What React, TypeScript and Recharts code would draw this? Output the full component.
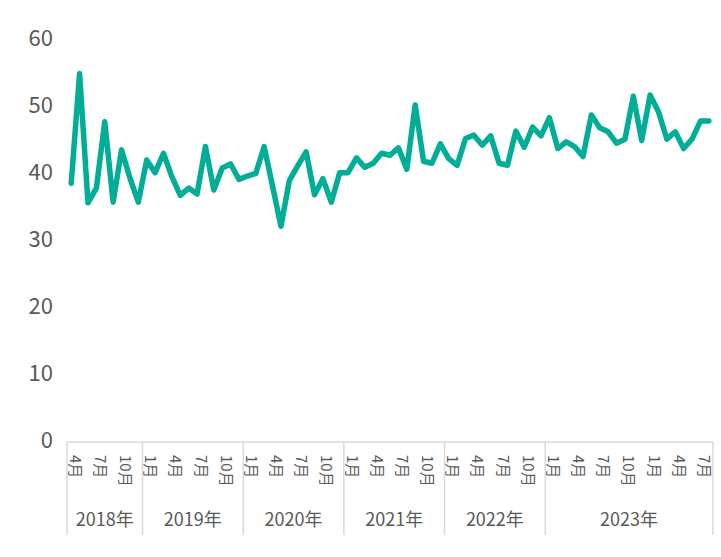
import { LineChart, Line, XAxis, YAxis } from 'recharts';

// months shown on the axis, Apr 2018 – Aug 2024
const categories = [
  '2018/4', '2018/5', '2018/6', '2018/7', '2018/8', '2018/9', '2018/10', '2018/11', '2018/12',
  '2019/1', '2019/2', '2019/3', '2019/4', '2019/5', '2019/6', '2019/7', '2019/8', '2019/9', '2019/10', '2019/11', '2019/12',
  '2020/1', '2020/2', '2020/3', '2020/4', '2020/5', '2020/6', '2020/7', '2020/8', '2020/9', '2020/10', '2020/11', '2020/12',
  '2021/1', '2021/2', '2021/3', '2021/4', '2021/5', '2021/6', '2021/7', '2021/8', '2021/9', '2021/10', '2021/11', '2021/12',
  '2022/1', '2022/2', '2022/3', '2022/4', '2022/5', '2022/6', '2022/7', '2022/8', '2022/9', '2022/10', '2022/11', '2022/12',
  '2023/1', '2023/2', '2023/3', '2023/4', '2023/5', '2023/6', '2023/7', '2023/8', '2023/9', '2023/10', '2023/11', '2023/12',
  '2024/1', '2024/2', '2024/3', '2024/4', '2024/5', '2024/6', '2024/7', '2024/8',
];

const values = [
  38.6, 55.0, 35.7, 37.9, 47.8, 35.8, 43.6, 39.4, 35.8,
  42.1, 40.2, 43.1, 39.6, 36.8, 37.9, 37.0, 44.1, 37.6, 40.9, 41.5, 39.2,
  39.7, 40.1, 44.1, 38.2, 32.2, 39.0, 41.2, 43.3, 36.9, 39.3, 35.8, 40.2,
  40.2, 42.4, 41.0, 41.6, 43.1, 42.8, 43.9, 40.7, 50.3, 41.9, 41.6, 44.5,
  42.3, 41.3, 45.3, 45.8, 44.3, 45.7, 41.6, 41.3, 46.4, 44.0, 47.0, 45.7,
  48.4, 43.8, 44.8, 44.1, 42.6, 48.8, 46.9, 46.3, 44.6, 45.2, 51.6, 45.0,
  51.8, 49.3, 45.2, 46.3, 43.8, 45.2, 47.9, 47.9,
];

// year groups as drawn in the source (last group runs into 2024)
const yearLabels = ['2018年', '2019年', '2020年', '2021年', '2022年', '2023年'];
const yearSizes = [9, 12, 12, 12, 12, 20];

const labeledMonths = ['1', '4', '7', '10'];
const yTicks = [0, 10, 20, 30, 40, 50, 60];

const data = categories.map((c, i) => ({ label: c, value: values[i] }));

const groupStarts = yearSizes.map((_, g) => yearSizes.slice(0, g).reduce((a, b) => a + b, 0));

const WIDTH = 721;
const HEIGHT = 557;
const PLOT_LEFT = 67;
const PLOT_RIGHT = 713;
const GRAY = '#595959';
const RULE = '#d9d9d9';

function MonthTick(props: any) {
  const { x, y, index, payload } = props;
  const half = payload?.offset || (PLOT_RIGHT - PLOT_LEFT) / categories.length / 2;
  const month = String(payload.value).split('/')[1];
  const g = groupStarts.indexOf(index);
  const isLast = index === categories.length - 1;

  return (
    <g>
      {labeledMonths.includes(month) && (
        <text
          transform={`translate(${x + 5}, ${y + 13}) rotate(90)`}
          textAnchor="start"
          dominantBaseline="central"
          fontSize={15}
          fill={GRAY}
        >
          {month}月
        </text>
      )}
      {g >= 0 && (
        <>
          <line x1={x - half} x2={x - half} y1={y} y2={y + 93} stroke={RULE} strokeWidth={1.5} />
          <text
            x={x - half + yearSizes[g] * half}
            y={y + 76}
            textAnchor="middle"
            dominantBaseline="central"
            fontSize={18}
            fill={GRAY}
          >
            {yearLabels[g]}
          </text>
        </>
      )}
      {isLast && (
        <line x1={x + half} x2={x + half} y1={y} y2={y + 93} stroke={RULE} strokeWidth={1.5} />
      )}
    </g>
  );
}

export default function App() {
  return (
    <div
      style={{
        position: 'absolute',
        left: 0,
        top: 0,
        width: WIDTH,
        height: HEIGHT,
        background: '#fff',
        fontFamily: '"Noto Sans CJK JP", "Noto Sans", sans-serif',
      }}
    >
      <LineChart
        width={WIDTH}
        height={HEIGHT}
        data={data}
        margin={{ top: 40, right: WIDTH - PLOT_RIGHT, bottom: 0, left: 0 }}
      >
        <XAxis
          dataKey="label"
          scale="band"
          interval={0}
          height={115}
          tickLine={false}
          tickSize={0}
          tickMargin={0}
          axisLine={{ stroke: RULE, strokeWidth: 1.5 }}
          tick={<MonthTick />}
        />
        <YAxis
          domain={[0, 60]}
          ticks={yTicks}
          width={PLOT_LEFT}
          axisLine={false}
          tickLine={false}
          tickMargin={8}
          tick={{ fill: GRAY, fontSize: 22, dy: -2 }}
        />
        <Line
          type="linear"
          dataKey="value"
          stroke="#00ae98"
          strokeWidth={5.5}
          strokeLinejoin="round"
          strokeLinecap="round"
          dot={false}
          activeDot={false}
          isAnimationActive={false}
        />
      </LineChart>
    </div>
  );
}
